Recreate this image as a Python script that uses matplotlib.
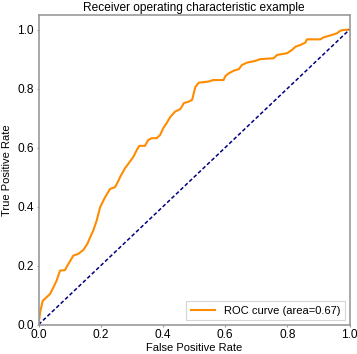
import matplotlib
matplotlib.use("Agg")
import matplotlib.pyplot as plt

plt.rcParams['font.family'] = ['Liberation Sans', 'DejaVu Sans']

fpr = [0.0, 0.005, 0.0135, 0.026, 0.037, 0.048, 0.058, 0.069, 0.085, 0.096, 0.112,
       0.128, 0.144, 0.157, 0.166, 0.176, 0.187, 0.198, 0.214, 0.230, 0.246, 0.257,
       0.263, 0.278, 0.294, 0.305, 0.316, 0.324, 0.342, 0.353, 0.364, 0.380, 0.391,
       0.401, 0.412, 0.423, 0.439, 0.455, 0.461, 0.467, 0.483, 0.494, 0.499, 0.504,
       0.515, 0.547, 0.561, 0.595, 0.601, 0.612, 0.628, 0.644, 0.654, 0.670, 0.697,
       0.713, 0.756, 0.767, 0.799, 0.815, 0.826, 0.842, 0.858, 0.863, 0.906, 0.917,
       0.944, 0.960, 0.970, 0.981, 1.0]
tpr = [0.0, 0.042, 0.081, 0.093, 0.104, 0.127, 0.149, 0.183, 0.185, 0.206, 0.234,
       0.240, 0.253, 0.274, 0.296, 0.319, 0.353, 0.398, 0.432, 0.460, 0.466, 0.488,
       0.502, 0.530, 0.553, 0.569, 0.592, 0.606, 0.606, 0.626, 0.632, 0.632, 0.643,
       0.666, 0.683, 0.703, 0.722, 0.730, 0.739, 0.751, 0.756, 0.762, 0.784, 0.805,
       0.820, 0.824, 0.829, 0.829, 0.843, 0.852, 0.861, 0.866, 0.880, 0.888, 0.894,
       0.900, 0.903, 0.914, 0.920, 0.931, 0.942, 0.948, 0.956, 0.967, 0.967, 0.974,
       0.982, 0.988, 0.996, 0.999, 1.0]
roc_auc = 0.67

title = "Receiver operating characteristic example"
xlabel = "False Positive Rate"
ylabel = "True Positive Rate"
xticks = [0.0, 0.2, 0.4, 0.6, 0.8, 1.0]
yticks = [0.0, 0.2, 0.4, 0.6, 0.8, 1.0]

fig = plt.figure(figsize=(3.57, 3.54), dpi=100)
ax = fig.add_axes([0.108, 0.083, 0.871, 0.875])

ax.plot(fpr, tpr, color='darkorange', lw=1.5, label='ROC curve (area=%0.2f)' % roc_auc)
ax.plot([0, 1], [0, 1], color='navy', lw=1.1, linestyle=(0, (2.5, 1.5)))
ax.set_xlim(0.0, 1.0)
ax.set_ylim(0.0, 1.05)
ax.set_xticks(xticks)
ax.set_yticks(yticks)
ax.tick_params(length=1.5, width=0.8, pad=2, labelsize=8.6, colors='#999999',
               labelcolor='black')
for s in ax.spines.values():
    s.set_color('#999999')
    s.set_linewidth(1.2)
ax.set_xlabel(xlabel, fontsize=8, labelpad=1)
ax.set_ylabel(ylabel, fontsize=8, labelpad=4)
ax.set_title(title, fontsize=8.6, pad=3)
leg = ax.legend(loc='lower right', fontsize=8, fancybox=False, edgecolor='#cccccc',
                borderaxespad=0.4, handlelength=2.2)
leg.get_frame().set_linewidth(0.8)

fig.savefig('out.png', dpi=100)
